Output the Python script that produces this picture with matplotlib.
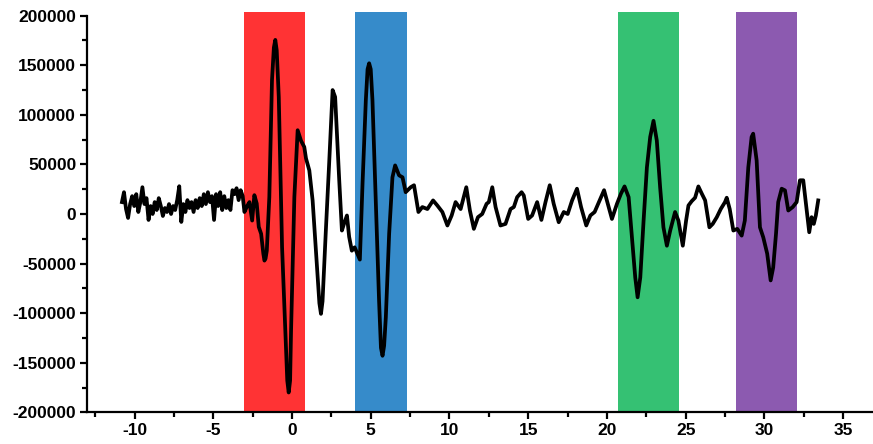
import matplotlib
matplotlib.use("Agg")
import matplotlib.pyplot as plt
import numpy as np
from matplotlib.ticker import MultipleLocator

plt.rcParams['font.family'] = ['Liberation Sans', 'DejaVu Sans']
plt.rcParams['axes.unicode_minus'] = False

# signal trace
time_x = [
    -10.8, -10.67, -10.54, -10.41, -10.28, -10.15, -10.02, -9.89, -9.76, -9.63,
    -9.50, -9.37, -9.24, -9.11, -8.98, -8.85, -8.72, -8.59, -8.46, -8.33,
    -8.20, -8.07, -7.94, -7.81, -7.68, -7.55, -7.42, -7.29, -7.16, -7.03,
    -6.90, -6.77, -6.64, -6.51, -6.38, -6.25, -6.12, -5.99, -5.86, -5.73,
    -5.60, -5.47, -5.34, -5.21, -5.08, -4.95, -4.82, -4.69, -4.56, -4.43,
    -4.30, -4.17, -4.04, -3.91, -3.78, -3.65, -3.52, -3.39, -3.26, -3.13,
    -3.02, -2.85, -2.7, -2.53, -2.39, -2.24, -2.11, -1.96, -1.82, -1.75, -1.68, -1.6,
    -1.44, -1.27, -1.15, -1.06, -0.97, -0.84, -0.63, -0.42, -0.3, -0.21, -0.12, -0.06, 0.15, 0.36,
    0.57, 0.78, 0.89, 1.1, 1.31, 1.52, 1.74, 1.84, 1.94, 2.15, 2.36, 2.58,
    2.74, 3.0, 3.17, 3.31, 3.49, 3.63, 3.8, 3.98, 4.31, 4.48,
    4.69, 4.8, 4.9, 5.0, 5.11, 5.32, 5.53, 5.65, 5.75, 5.85, 5.96, 6.17, 6.38, 6.55,
    6.8, 7.02, 7.22, 7.54, 7.75, 8.03, 8.28, 8.6, 8.96, 9.23,
    9.55, 9.87, 10.14, 10.39, 10.71, 11.07, 11.3, 11.55, 11.81, 12.08,
    12.36, 12.5, 12.72, 12.93, 13.24, 13.56, 13.88, 14.09, 14.3, 14.58,
    14.72, 15.0, 15.25, 15.57, 15.84, 16.1, 16.37, 16.62, 16.94, 17.26,
    17.51, 17.79, 18.1, 18.36, 18.69, 18.95, 19.22, 19.54, 19.82, 20.0,
    20.32, 20.64, 20.89, 21.12, 21.38, 21.59, 21.8, 21.95, 22.12, 22.33,
    22.54, 22.75, 22.96, 23.17, 23.38, 23.59, 23.81, 24.02, 24.33, 24.54,
    24.82, 25.03, 25.18, 25.39, 25.6, 25.81, 26.03, 26.24, 26.51, 26.72,
    26.98, 27.23, 27.5, 27.61, 27.8, 28.03, 28.28, 28.56, 28.76, 28.98,
    29.19, 29.29, 29.51, 29.72, 29.93, 30.18, 30.4, 30.56, 30.74, 30.88,
    31.1, 31.31, 31.52, 31.8, 32.05, 32.26, 32.47, 32.69, 32.85, 33.0,
    33.14, 33.27, 33.42,
]
signal_y = [
    12000, 22000, 5000, -4000, 10000, 18000, 8000, 20000, 2000, 12000,
    27000, 10000, 16000, -6000, 8000, 0, 12000, 4000, 16000, 8000,
    -2000, 6000, 2000, 10000, 0, 8000, 4000, 14000, 28000, -8000,
    10000, 2000, 14000, 6000, 12000, 2000, 14000, 6000, 16000, 8000,
    20000, 10000, 22000, 12000, 18000, -6000, 20000, 8000, 22000, 4000,
    18000, 6000, 14000, 4000, 24000, 20000, 26000, 14000, 24000, 18000,
    2000, 8000, 12000, -6600, 19000, 10600, -13000, -20000, -40000, -47000, -45000, -37000,
    17000, 135000, 168000, 175600, 165000, 118000, -33600, -118000, -168000, -180000, -168000, -118000, 17000, 84500,
    74000, 67600, 56000, 44000, 13700, -37000, -90000, -100700, -88000, -16700, 51000, 125000,
    118000, 34000, -16700, -9600, -1500, -23000, -37000, -33600, -46000, 30500,
    115000, 146000, 152000, 146000, 115000, 13700, -87500, -135000, -143000, -133000, -104000, -20000, 37000, 49000,
    39000, 37000, 22000, 27000, 29000, 2000, 7000, 5000, 13700, 8600,
    2000, -11600, -1500, 12000, 5000, 27000, 3500, -15000, -3200, 0,
    10300, 12000, 27000, 7000, -11600, -10000, 5000, 7000, 17000, 22000,
    18700, -5000, -1500, 12000, -6000, 12000, 29000, 10300, -8300, 2000,
    0, 13700, 25500, 7000, -11600, -1500, 2000, 13700, 24000, 13700,
    -5000, 10300, 20400, 27800, 17000, -23500, -64000, -84000, -64000, -6600,
    47000, 77700, 94000, 74000, 27000, -13400, -32000, -16700, 2000, -6600,
    -32000, -6600, 8600, 13000, 16400, 27800, 20400, 13700, -13400, -10000,
    -3200, 5000, 12000, 16400, 5000, -16700, -15000, -21800, -6600, 47000,
    77700, 81000, 54000, -13400, -23500, -40000, -67000, -54000, -20000, 12000,
    25500, 23800, 3500, 7000, 12000, 34000, 34000, 3500, -18400, -3200,
    -10000, -1500, 13700,
]

# highlighted windows
span_start = [-3.05, 4.03, 20.7, 28.2]
span_end = [0.82, 7.33, 24.6, 32.07]
span_colors = ['#ff3334', '#368bca', '#35c173', '#8c5ab0']

fig = plt.figure(figsize=(8.73, 4.44), dpi=100)
ax = fig.add_axes([0.1, 0.0714, 0.9, 0.9022])

for x0, x1, c in zip(span_start, span_end, span_colors):
    ax.axvspan(x0, x1, color=c, lw=0, zorder=1)

ax.plot(time_x, signal_y, color='black', lw=2.7, solid_joinstyle='round', zorder=3)

ax.set_xlim(-13, 36.9)
ax.set_ylim(-200000, 204000)
ax.spines['top'].set_visible(False)
ax.spines['right'].set_visible(False)
ax.spines['left'].set_bounds(-200000, 200000)
for s in ['left', 'bottom']:
    ax.spines[s].set_linewidth(1.6)

ax.xaxis.set_major_locator(MultipleLocator(5))
ax.xaxis.set_minor_locator(MultipleLocator(2.5))
ax.yaxis.set_major_locator(MultipleLocator(50000))
ax.yaxis.set_minor_locator(MultipleLocator(25000))
ax.tick_params(which='major', direction='out', length=5, width=1.6, pad=3)
ax.tick_params(which='minor', direction='out', length=3.5, width=1.6)
for lab in ax.get_xticklabels() + ax.get_yticklabels():
    lab.set_fontweight('bold')
    lab.set_fontsize(12.5)

fig.savefig('out.png', dpi=100)
